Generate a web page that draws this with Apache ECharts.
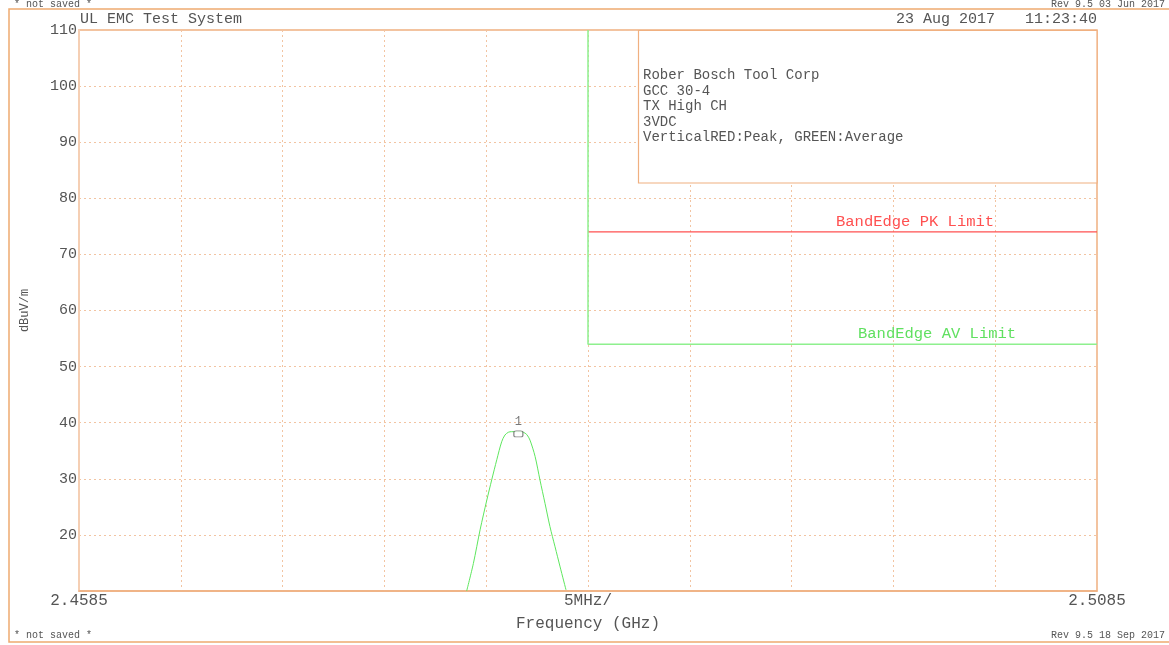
<!DOCTYPE html>
<html>
<head>
<meta charset="utf-8">
<script src="https://cdn.jsdelivr.net/npm/echarts@6/dist/echarts.min.js"></script>
<style>
html,body{margin:0;padding:0;background:#fff;}
#c{width:1169px;height:645px;}
</style>
</head>
<body>
<div id="c"></div>
<script>
// ---- data ----
var X_START = 2.4585;   // GHz
var X_END = 2.5085;     // GHz
var X_STEP_MHZ = 5;
var Y_MIN = 10, Y_MAX = 110, Y_STEP = 10;

var traceFreq = [2.47754, 2.47787, 2.47820, 2.47853, 2.47877, 2.47902, 2.47926, 2.47942, 2.47959, 2.47975, 2.47992, 2.48016, 2.48032, 2.48049, 2.48065, 2.48090, 2.48114, 2.48139, 2.48163, 2.48188, 2.48213, 2.48242];
var traceDb   = [10.0, 14.9, 20.9, 26.2, 29.8, 33.4, 36.6, 37.8, 38.3, 38.4, 38.4, 38.4, 38.3, 37.9, 36.9, 34.0, 29.8, 25.6, 21.5, 17.9, 14.3, 10.2];

var bandEdgeFreq = 2.4835;
var pkLimit = 74;
var avLimit = 54;
var markerFreq = 2.48008;
var markerDb = 38.0;
var markerLabel = '1';

var infoLines = ['Rober Bosch Tool Corp', 'GCC 30-4', 'TX High CH', '3VDC', 'VerticalRED:Peak, GREEN:Average'];

function toMHz(f){ return (f - X_START) * 1000; }
var spanMHz = Math.round((X_END - X_START) * 1000);

var FONT = 'Liberation Mono';
var TXT = '#555';
var ORANGE = '#f0b080';
var GRIDC = '#f2c4a2';

var chart = echarts.init(document.getElementById('c'));
chart.setOption({
  backgroundColor: '#fff',
  animation: false,
  grid: {left: 79, right: 72, top: 30, bottom: 54, show: true, borderColor: ORANGE, borderWidth: 1.5},
  xAxis: {
    type: 'value', min: 0, max: spanMHz, interval: X_STEP_MHZ,
    name: 'Frequency (GHz)', nameLocation: 'middle', nameGap: 25,
    nameTextStyle: {fontFamily: FONT, fontSize: 16, color: TXT},
    axisLine: {show: true, lineStyle: {color: ORANGE, width: 1.5}},
    axisTick: {show: false},
    axisLabel: {
      fontFamily: FONT, fontSize: 16, color: TXT, margin: 2, showMinLabel: true, showMaxLabel: true,
      formatter: function(v){
        if (Math.abs(v) < 1e-6) return X_START.toFixed(4);
        if (Math.abs(v - spanMHz) < 1e-6) return X_END.toFixed(4);
        if (Math.abs(v - spanMHz/2) < 1e-6) return X_STEP_MHZ + 'MHz/';
        return '';
      }
    },
    splitLine: {show: true, lineStyle: {color: GRIDC, type: [2, 3], width: 1}}
  },
  yAxis: {
    type: 'value', min: Y_MIN, max: Y_MAX, interval: Y_STEP,
    name: 'dBuV/m', nameLocation: 'middle', nameGap: 48,
    nameTextStyle: {fontFamily: FONT, fontSize: 12, color: TXT},
    axisLine: {show: true, lineStyle: {color: '#f5cfb4', width: 2}},
    axisTick: {show: false},
    axisLabel: {
      fontFamily: FONT, fontSize: 15, color: TXT, margin: 2,
      formatter: function(v){ return v === Y_MIN ? '' : String(v); }
    },
    splitLine: {show: true, lineStyle: {color: GRIDC, type: [2, 3], width: 1}}
  },
  series: [
    {
      type: 'line', name: 'trace', symbol: 'none', smooth: 0.3,
      lineStyle: {color: '#5ee65e', width: 1},
      data: traceFreq.map(function(f, i){ return [toMHz(f), traceDb[i]]; }),
      z: 3
    },
    {
      type: 'line', name: 'pk', symbol: 'none',
      lineStyle: {color: '#ff5050', width: 1.2},
      data: [[toMHz(bandEdgeFreq), pkLimit], [toMHz(X_END), pkLimit]],
      z: 3
    },
    {
      type: 'line', name: 'av', symbol: 'none',
      lineStyle: {color: '#8ef08e', width: 1.5},
      data: [[toMHz(bandEdgeFreq), Y_MAX], [toMHz(bandEdgeFreq), avLimit], [toMHz(X_END), avLimit]],
      z: 3
    },
    {
      type: 'scatter', name: 'marker', symbol: 'roundRect', symbolSize: [9, 6],
      itemStyle: {color: '#fff', borderColor: '#666', borderWidth: 1},
      label: {show: true, position: 'top', distance: 3, formatter: markerLabel, fontFamily: FONT, fontSize: 12, color: TXT},
      data: [[toMHz(markerFreq), markerDb]],
      z: 4
    }
  ],
  graphic: [
    // outer frame (right side off-canvas)
    {type: 'rect', z: 1, shape: {x: 9, y: 9, width: 1200, height: 633}, style: {fill: 'none', stroke: '#eeaa70', lineWidth: 1.5}},
    // header/footer
    {type: 'text', left: 14, top: -1, style: {text: '* not saved *', font: '10px "' + FONT + '"', fill: TXT}},
    {type: 'text', right: 4, top: -1, style: {text: 'Rev 9.5 03 Jun 2017', font: '10px "' + FONT + '"', fill: TXT}},
    {type: 'text', left: 14, top: 630, style: {text: '* not saved *', font: '10px "' + FONT + '"', fill: TXT}},
    {type: 'text', right: 4, top: 630, style: {text: 'Rev 9.5 18 Sep 2017', font: '10px "' + FONT + '"', fill: TXT}},
    {type: 'text', left: 80, top: 12, style: {text: 'UL EMC Test System', font: '15px "' + FONT + '"', fill: TXT}},
    {type: 'text', left: 896, top: 12, style: {text: '23 Aug 2017', font: '15px "' + FONT + '"', fill: TXT}},
    {type: 'text', left: 1025, top: 12, style: {text: '11:23:40', font: '15px "' + FONT + '"', fill: TXT}},
    // info box
    {type: 'rect', z: 10, shape: {x: 638.5, y: 30.5, width: 458.5, height: 152.5}, style: {fill: '#fff', stroke: ORANGE, lineWidth: 1.2}},
    {type: 'text', z: 11, left: 643, top: 68, style: {text: infoLines.join('\n'), font: '14px "' + FONT + '"', lineHeight: 15.4, fill: TXT}},
    // limit labels
    {type: 'text', z: 11, left: 836, top: 214, style: {text: 'BandEdge PK Limit', font: '15.5px "' + FONT + '"', fill: '#ff5050'}},
    {type: 'text', z: 11, left: 858, top: 326, style: {text: 'BandEdge AV Limit', font: '15.5px "' + FONT + '"', fill: '#60e060'}}
  ]
});
</script>
</body>
</html>
